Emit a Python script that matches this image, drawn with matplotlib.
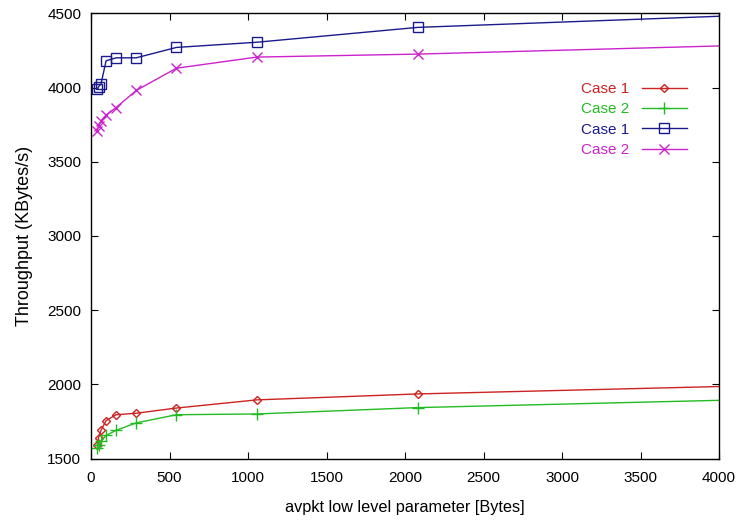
import matplotlib
matplotlib.use("Agg")
import matplotlib.pyplot as plt
from matplotlib.lines import Line2D

x_vals = [40, 48, 64, 96, 160, 288, 544, 1056, 2080, 4000]
case1_red = [1590, 1640, 1690, 1755, 1795, 1805, 1840, 1895, 1935, 1985]
case2_green = [1570, 1590, 1615, 1655, 1690, 1740, 1795, 1800, 1843, 1892]
case1_blue = [3990, 4005, 4025, 4180, 4200, 4200, 4270, 4305, 4405, 4480]
case2_magenta = [3710, 3740, 3775, 3815, 3865, 3980, 4130, 4205, 4225, 4280]
labels = ["Case 1", "Case 2", "Case 1", "Case 2"]
x_ticks = [0, 500, 1000, 1500, 2000, 2500, 3000, 3500, 4000]
y_ticks = [1500, 2000, 2500, 3000, 3500, 4000, 4500]

plt.rcParams['font.family'] = ['Liberation Sans', 'DejaVu Sans']
W, H = 739, 524
fig = plt.figure(figsize=(W / 100, H / 100), dpi=100)
ax = fig.add_axes([91 / W, 1 - 458.5 / H, (719 - 91) / W, (458.5 - 13.3) / H])

series = [
    (case1_red, '#cc2222', 'D', 4, 'none'),
    (case2_green, '#22bb22', '+', 8, None),
    (case1_blue, '#1a1a8c', 's', 7, 'none'),
    (case2_magenta, '#cc22cc', 'x', 7, None),
]
proxies = []
n = len(x_vals)
for (ys, col, mk, ms, mfc), lab in zip(series, labels):
    kw = dict(color=col, marker=mk, markersize=ms, linewidth=1.0,
              markeredgewidth=1.0)
    if mfc is not None:
        kw['markerfacecolor'] = mfc
    ax.plot(x_vals, ys, markevery=list(range(n - 1)), **kw)
    proxies.append(Line2D([], [], label=lab, **kw))

ax.set_xlim(0, 4000)
ax.set_ylim(1500, 4500)
ax.set_xticks(x_ticks)
ax.set_yticks(y_ticks)
ax.tick_params(direction='in', top=True, right=True, length=5, width=0.8,
               labelsize=11)
ax.tick_params(axis='x', pad=9)
ax.tick_params(axis='y', pad=7)
for s in ax.spines.values():
    s.set_linewidth(1.0)
ax.set_xlabel('avpkt low level parameter [Bytes]', fontsize=11.7, labelpad=11)
ax.set_ylabel('Throughput (KBytes/s)', fontsize=13, labelpad=10)

leg = fig.legend(handles=proxies, loc='upper right',
                 bbox_to_anchor=(687 / W, 1 - 82 / H),
                 bbox_transform=fig.transFigure,
                 frameon=False, markerfirst=False, fontsize=11, numpoints=1,
                 handlelength=2.95, labelspacing=0.42, handletextpad=0.85,
                 borderpad=0, borderaxespad=0)
for h, t in zip(proxies, leg.get_texts()):
    t.set_color(h.get_color())

fig.savefig('out.png', dpi=100)
